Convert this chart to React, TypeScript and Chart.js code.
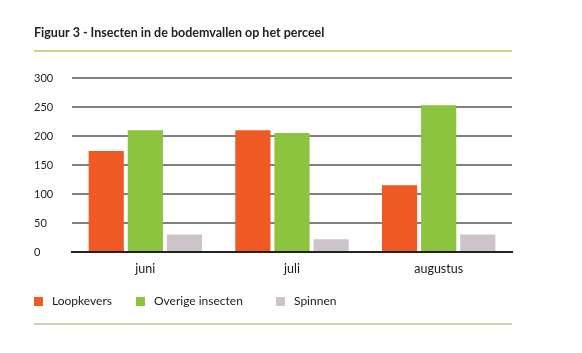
import React, { useEffect, useRef } from "react";
import { Chart, registerables } from "chart.js";

Chart.register(...registerables);

const TITLE = "Figuur 3 - Insecten in de bodemvallen op het perceel";
const categories = ["juni", "juli", "augustus"];
const seriesNames = ["Loopkevers", "Overige insecten", "Spinnen"];
const loopkevers = [174, 210, 115];
const overigeInsecten = [210, 205, 253];
const spinnen = [30, 22, 30];
const seriesColors = ["#EF5A24", "#8CC43F", "#CCC4CA"];
const yTicks = [0, 50, 100, 150, 200, 250, 300];

const FONT = "Lato, 'Open Sans', sans-serif";

const decorPlugin = {
  id: "decor",
  afterDraw(chart: any) {
    const ctx = chart.ctx;
    const left = chart.chartArea.left - 38;
    const right = chart.chartArea.right;
    ctx.save();
    // title
    ctx.fillStyle = "#222";
    ctx.font = `bold 12.5px ${FONT}`;
    ctx.textBaseline = "middle";
    ctx.textAlign = "left";
    ctx.fillText(TITLE, left, 33);
    // top rule
    ctx.strokeStyle = "#ADCD62";
    ctx.lineWidth = 1.5;
    ctx.beginPath();
    ctx.moveTo(left, 51);
    ctx.lineTo(right, 51);
    ctx.stroke();
    // bottom rule
    ctx.strokeStyle = "#C6DAA8";
    ctx.lineWidth = 2;
    ctx.beginPath();
    ctx.moveTo(left, 324);
    ctx.lineTo(right, 324);
    ctx.stroke();
    // legend
    const boxX = [left, left + 102, left + 242];
    ctx.font = `12px ${FONT}`;
    chart.data.datasets.forEach((ds: any, i: number) => {
      ctx.fillStyle = ds.backgroundColor;
      ctx.fillRect(boxX[i], 297, 9, 9);
      ctx.fillStyle = "#1a1a1a";
      ctx.fillText(ds.label, boxX[i] + 18, 301.5);
    });
    ctx.restore();
  },
};

export default function App() {
  const ref = useRef<HTMLCanvasElement>(null);
  useEffect(() => {
    if (!ref.current) return;
    const chart = new Chart(ref.current, {
      type: "bar",
      data: {
        labels: categories,
        datasets: [
          { label: seriesNames[0], data: loopkevers, backgroundColor: seriesColors[0] },
          { label: seriesNames[1], data: overigeInsecten, backgroundColor: seriesColors[1] },
          { label: seriesNames[2], data: spinnen, backgroundColor: seriesColors[2] },
        ],
      },
      options: {
        animation: false,
        responsive: false,
        maintainAspectRatio: false,
        layout: { padding: { left: 34, right: 70, top: 78, bottom: 69 } },
        plugins: {
          legend: { display: false },
          title: { display: false },
          tooltip: { enabled: false },
        },
        scales: {
          x: {
            afterFit: (scale: any) => {
              scale.height = 32;
            },
            grid: { display: false, drawTicks: false },
            border: { display: true, color: "#222", width: 2 },
            ticks: { color: "#1a1a1a", font: { family: FONT, size: 12.5 }, padding: 9, maxRotation: 0 },
          },
          y: {
            min: 0,
            max: 300,
            afterFit: (scale: any) => {
              scale.width = 38;
            },
            afterBuildTicks: (scale: any) => {
              scale.ticks = yTicks.map((v) => ({ value: v }));
            },
            border: { display: false },
            grid: {
              color: (c: any) => (c.tick && c.tick.value === 0 ? "#222" : "#808080"),
              lineWidth: 2,
              drawTicks: false,
            },
            ticks: {
              crossAlign: "far",
              color: "#222",
              font: { family: FONT, size: 11 },
              padding: 0,
            },
          },
        },
      },
      plugins: [decorPlugin],
    });
    return () => chart.destroy();
  }, []);
  return (
    <div style={{ position: "fixed", left: 0, top: 0, width: 582, height: 353, background: "#fff" }}>
      <canvas ref={ref} width={582} height={353} style={{ width: 582, height: 353 }} />
    </div>
  );
}
